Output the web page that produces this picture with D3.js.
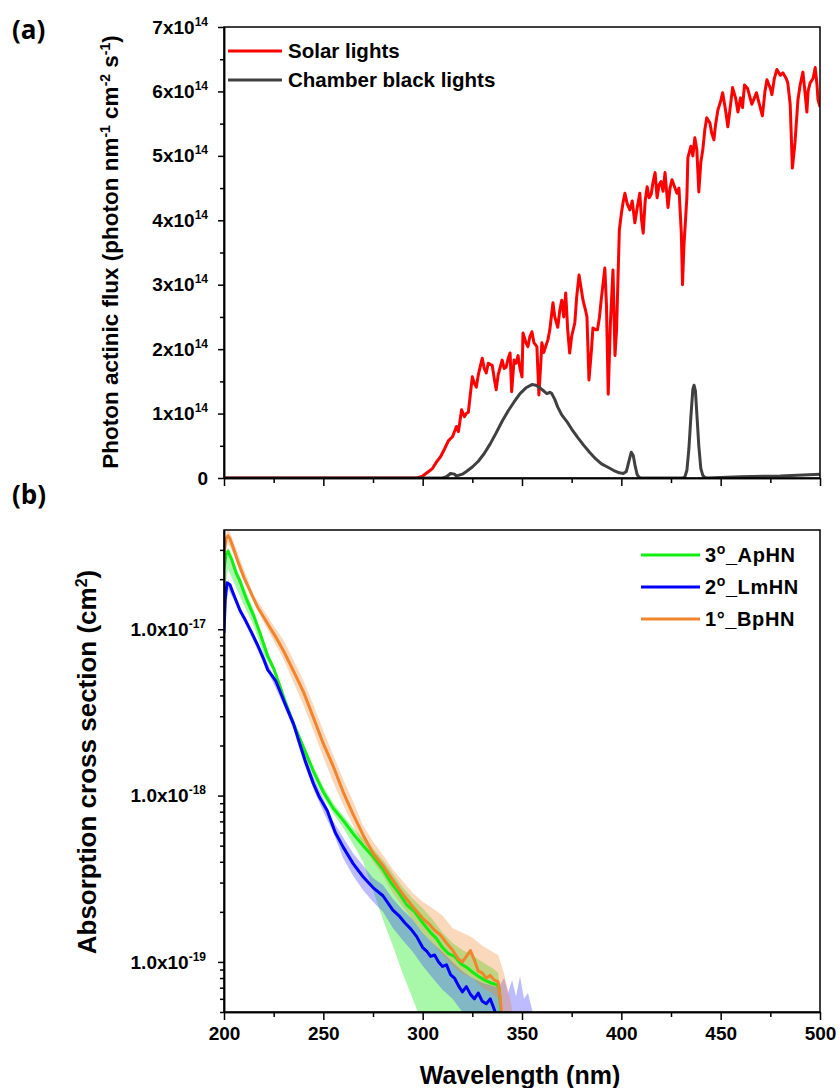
<!DOCTYPE html>
<html lang="en">
<head>
<meta charset="UTF-8">
<title>Actinic flux and absorption cross sections</title>
<script src="https://d3js.org/d3.v7.min.js"></script>
<style>
  body { margin: 0; background: #fff; }
  svg text { font-family: "Liberation Sans", Arial, sans-serif; font-weight: bold; fill: #000; }
</style>
</head>
<body>
<svg width="840" height="1088"></svg>
<script>
// ---- panel (a): actinic flux, values in units of 1e14 photon nm-1 cm-2 s-1
const solarWl = [200, 297, 300, 303, 305, 307, 309, 311, 313, 315, 317, 318, 319.6, 321, 322, 323, 324, 325, 326, 327, 328, 330, 331, 332, 333, 335, 336, 337, 338, 340, 341, 342, 343, 344, 344.8, 346, 347, 348, 349, 350, 350.5, 352, 353, 354, 355, 356, 357.5, 358.5, 359.5, 360, 361, 362, 363, 364, 365.6, 366.5, 368, 369, 370, 371, 372, 373, 374, 375, 376.6, 377.5, 378.7, 380, 380.7, 382, 382.7, 383.7, 385, 385.7, 387, 388, 389, 390, 391.7, 392.5, 393.4, 394.5, 395.8, 396.8, 397.6, 398.5, 399, 400, 401, 401.8, 403, 404.3, 405.5, 406.8, 408, 409.3, 410.2, 411, 412, 413, 414, 415, 416, 417, 418, 419, 420, 421, 422, 423.5, 424.5, 425.5, 427, 428, 429, 430.2, 430.8, 431.5, 433, 433.5, 435, 436, 437, 438, 439, 440, 441, 442, 443, 444.6, 445.5, 446.6, 447.5, 448.6, 450, 451, 452.5, 453.6, 455, 456, 457.5, 458.7, 460, 461, 462, 463.5, 465.7, 467, 468, 469.5, 471, 472.3, 473.3, 475, 475.8, 477, 478.3, 480, 481.3, 483, 483.8, 485, 486.1, 487.4, 488.9, 490, 491.4, 492.4, 493.4, 494, 495, 496.5, 497.6, 498.5, 499, 500];
const solarFlux = [0, 0, 0.03, 0.1, 0.15, 0.25, 0.33, 0.45, 0.58, 0.64, 0.8, 0.72, 1.06, 0.95, 1.0, 1.02, 1.3, 1.57, 1.47, 1.41, 1.6, 1.86, 1.7, 1.63, 1.78, 1.75, 1.55, 1.37, 1.6, 1.83, 1.7, 1.72, 1.85, 1.94, 1.34, 1.83, 1.78, 1.9, 1.7, 1.57, 2.25, 2.1, 2.04, 2.2, 2.27, 2.1, 2.04, 1.29, 1.8, 2.1, 1.95, 2.05, 2.14, 2.3, 2.72, 2.5, 2.34, 2.6, 2.76, 2.5, 2.87, 2.3, 1.94, 2.2, 2.41, 2.8, 3.15, 2.9, 2.76, 2.6, 2.5, 1.52, 2.0, 2.33, 2.3, 2.3, 2.5, 2.8, 3.26, 2.7, 1.3, 2.4, 3.23, 1.9, 2.3, 3.3, 3.85, 4.1, 4.3, 4.42, 4.25, 4.16, 4.3, 3.96, 4.2, 4.42, 4.0, 3.8, 4.3, 4.52, 4.35, 4.4, 4.6, 4.74, 4.35, 4.55, 4.6, 4.45, 4.74, 4.2, 4.5, 4.63, 4.5, 4.42, 4.5, 3.8, 3.0, 3.6, 4.36, 4.97, 5.15, 5.0, 5.28, 5.1, 4.44, 4.9, 5.09, 5.4, 5.59, 5.51, 5.35, 5.25, 5.5, 5.71, 5.85, 5.98, 5.7, 5.45, 5.8, 6.06, 5.9, 5.68, 5.9, 5.75, 6.1, 6.05, 5.8, 5.9, 5.98, 5.8, 5.62, 6.0, 6.18, 6.05, 5.95, 6.2, 6.34, 6.25, 6.29, 6.2, 6.13, 5.8, 4.81, 5.2, 5.87, 6.1, 6.3, 6.0, 5.68, 6.0, 6.13, 6.2, 6.37, 6.1, 5.87, 5.76];

const blackWl = [200, 310, 312, 314, 316, 317, 318, 320, 322, 325, 328, 331, 334, 337, 340, 343, 346, 349, 352, 355, 357, 359, 361, 362.5, 364, 365, 366.5, 368, 370, 372.5, 375, 378, 381, 384, 387, 390, 393, 396, 399, 401, 402.5, 404, 405, 406, 407, 408, 409, 410, 431, 432, 433, 434, 435, 436, 436.6, 437.3, 438, 439, 440, 441, 442, 443, 460, 480, 500];
const blackFlux = [0, 0, 0.02, 0.07, 0.06, 0.03, 0.04, 0.06, 0.1, 0.17, 0.26, 0.38, 0.53, 0.7, 0.88, 1.04, 1.18, 1.31, 1.4, 1.45, 1.44, 1.4, 1.35, 1.31, 1.33, 1.31, 1.22, 1.1, 0.98, 0.88, 0.76, 0.63, 0.51, 0.4, 0.3, 0.22, 0.17, 0.12, 0.08, 0.07, 0.1, 0.28, 0.4, 0.35, 0.18, 0.05, 0.01, 0, 0, 0.02, 0.12, 0.45, 0.95, 1.38, 1.44, 1.35, 1.0, 0.5, 0.15, 0.04, 0.01, 0, 0.02, 0.03, 0.06];

const fluxTicks = [0, 1, 2, 3, 4, 5, 6, 7];
const fluxMinor = [0.5, 1.5, 2.5, 3.5, 4.5, 5.5, 6.5];
const wlTicks = [200, 250, 300, 350, 400, 450, 500];
const wlMinor = [225, 275, 325, 375, 425, 475];

// ---- panel (b): absorption cross sections (cm2)
const apWl = [200, 201, 202, 204, 206, 208, 211, 215, 218, 222, 225, 228, 230, 235, 240, 245, 250, 255, 260, 265, 270, 275, 280, 284, 288, 292, 296, 300, 304, 307, 310, 313, 316, 319, 322, 325, 328, 331, 334, 337, 338.5, 339.5];
const apXs = [2.3e-17, 2.8e-17, 2.95e-17, 2.6e-17, 2.2e-17, 1.95e-17, 1.55e-17, 1.2e-17, 9.6e-18, 6.9e-18, 5.8e-18, 4.6e-18, 3.9e-18, 2.7e-18, 1.95e-18, 1.4e-18, 1.05e-18, 8.4e-19, 7.1e-19, 5.9e-19, 5.0e-19, 4.3e-19, 3.6e-19, 3.0e-19, 2.6e-19, 2.2e-19, 2.0e-19, 1.72e-19, 1.5e-19, 1.38e-19, 1.22e-19, 1.12e-19, 1.08e-19, 9.8e-20, 9.3e-20, 8.7e-20, 8.2e-20, 7.8e-20, 7.5e-20, 7.3e-20, 7.0e-20, 4.8e-20];
const apBandWl = [200, 202, 205, 210, 215, 220, 225, 230, 235, 240, 245, 250, 255, 260, 265, 270, 275, 280, 285, 290, 295, 300, 305, 310, 315, 320, 325, 330, 335, 338, 340];
const apLo = [1.6e-17, 2.3e-17, 1.9e-17, 1.4e-17, 1.05e-17, 7.0e-18, 5.6e-18, 3.75e-18, 2.6e-18, 1.85e-18, 1.32e-18, 9.8e-19, 7.8e-19, 6.4e-19, 5.1e-19, 4.0e-19, 2.7e-19, 1.8e-19, 1.25e-19, 8.5e-20, 6.0e-20, 4.2e-20, 3e-20, 3e-20, 3e-20, 3e-20, 3e-20, 3e-20, 3e-20, 3e-20, 3e-20];
const apHi = [2.5e-17, 3.1e-17, 2.5e-17, 1.8e-17, 1.3e-17, 8.2e-18, 6.1e-18, 4.1e-18, 2.85e-18, 2.05e-18, 1.5e-18, 1.13e-18, 9.0e-19, 7.6e-19, 6.4e-19, 5.5e-19, 4.8e-19, 4.1e-19, 3.4e-19, 2.8e-19, 2.4e-19, 2.1e-19, 1.8e-19, 1.5e-19, 1.3e-19, 1.18e-19, 1.1e-19, 1.0e-19, 9.2e-20, 8.6e-20, 5e-20];

const lmWl = [200, 200.6, 201.5, 203, 205, 208, 211, 214, 217, 220, 222, 224, 226, 228, 231, 235, 238, 241, 245, 248, 252, 256, 260, 265, 270, 275, 280, 285, 288, 291, 294, 297, 300, 302, 304, 306, 308, 310, 312, 314, 316, 318, 320, 322, 324, 326, 328, 330, 332, 334, 336, 337.5];
const lmXs = [9.5e-18, 1.5e-17, 1.9e-17, 1.85e-17, 1.6e-17, 1.3e-17, 1.12e-17, 9.5e-18, 8.0e-18, 6.6e-18, 5.7e-18, 5.3e-18, 4.9e-18, 4.3e-18, 3.5e-18, 2.7e-18, 2.07e-18, 1.6e-18, 1.18e-18, 9.8e-19, 8.1e-19, 6.0e-19, 4.9e-19, 3.9e-19, 3.25e-19, 2.8e-19, 2.5e-19, 2.05e-19, 1.9e-19, 1.72e-19, 1.58e-19, 1.42e-19, 1.22e-19, 1.16e-19, 1.08e-19, 1.1e-19, 1.0e-19, 9.4e-20, 9.6e-20, 8.4e-20, 8.0e-20, 7.2e-20, 6.6e-20, 7.1e-20, 6.4e-20, 6.0e-20, 6.5e-20, 5.8e-20, 5.6e-20, 6.0e-20, 5.2e-20, 4.6e-20];
const lmBandWl = [200, 202, 205, 210, 215, 220, 225, 230, 235, 240, 245, 250, 255, 260, 265, 270, 275, 280, 285, 290, 295, 300, 305, 310, 315, 320, 325, 330, 335, 338, 341, 343, 345, 347, 349, 351, 353, 355, 357];
const lmLo = [9e-18, 1.75e-17, 1.5e-17, 1.12e-17, 8.4e-18, 6.2e-18, 4.7e-18, 3.5e-18, 2.5e-18, 1.6e-18, 1.1e-18, 8.0e-19, 6.0e-19, 4.2e-19, 3.3e-19, 2.7e-19, 2.3e-19, 2.0e-19, 1.6e-19, 1.35e-19, 1.15e-19, 9.5e-20, 8.0e-20, 6.8e-20, 6.0e-20, 5.0e-20, 4.5e-20, 4.0e-20, 3e-20, 3e-20, 3e-20, 3e-20, 3e-20, 3e-20, 3e-20, 3e-20, 3e-20, 3e-20, 3e-20];
const lmHi = [1.0e-17, 2.0e-17, 1.7e-17, 1.2e-17, 9.0e-18, 7.0e-18, 5.2e-18, 3.8e-18, 2.85e-18, 1.85e-18, 1.3e-18, 9.6e-19, 7.0e-19, 5.6e-19, 4.5e-19, 3.8e-19, 3.2e-19, 2.9e-19, 2.4e-19, 2.05e-19, 1.8e-19, 1.5e-19, 1.3e-19, 1.15e-19, 1.0e-19, 8.8e-20, 8.0e-20, 7.5e-20, 7.2e-20, 7.0e-20, 8.0e-20, 6.5e-20, 7.8e-20, 6.2e-20, 8.2e-20, 6.0e-20, 6.5e-20, 5.2e-20, 4.5e-20];

const bpWl = [200, 201, 202, 203, 205, 207, 210, 213, 217, 220, 223, 226, 230, 235, 240, 245, 250, 255, 260, 265, 270, 275, 280, 285, 290, 295, 300, 303, 306, 309, 312, 315, 318, 320, 322, 324, 326, 328, 330, 332, 334, 336, 338, 339, 340];
const bpXs = [2.9e-17, 3.5e-17, 3.65e-17, 3.5e-17, 3.0e-17, 2.55e-17, 2.05e-17, 1.71e-17, 1.35e-17, 1.18e-17, 1.03e-17, 9.0e-18, 7.4e-18, 5.6e-18, 4.2e-18, 2.95e-18, 2.05e-18, 1.5e-18, 1.05e-18, 7.7e-19, 5.8e-19, 4.5e-19, 3.8e-19, 3.1e-19, 2.55e-19, 2.15e-19, 1.83e-19, 1.7e-19, 1.55e-19, 1.45e-19, 1.3e-19, 1.18e-19, 1.04e-19, 1.0e-19, 1.08e-19, 1.17e-19, 1.03e-19, 8.8e-20, 8.6e-20, 8.0e-20, 8.3e-20, 7.8e-20, 7.6e-20, 6.0e-20, 4.5e-20];
const bpBandWl = [200, 202, 205, 210, 215, 220, 225, 230, 235, 240, 245, 250, 255, 260, 265, 270, 275, 280, 285, 290, 295, 300, 305, 310, 315, 320, 325, 330, 335, 338, 341, 344, 346];
const bpLo = [2.6e-17, 3.3e-17, 2.8e-17, 2.0e-17, 1.45e-17, 1.1e-17, 8.5e-18, 6.6e-18, 4.8e-18, 3.5e-18, 2.45e-18, 1.7e-18, 1.2e-18, 8.8e-19, 6.6e-19, 5.0e-19, 4.0e-19, 3.3e-19, 2.6e-19, 2.15e-19, 1.8e-19, 1.5e-19, 1.3e-19, 1.1e-19, 9.5e-20, 8.5e-20, 8e-20, 7e-20, 6.5e-20, 6e-20, 5e-20, 4.5e-20, 4e-20];
const bpHi = [3.3e-17, 4.1e-17, 3.3e-17, 2.3e-17, 1.6e-17, 1.3e-17, 1.05e-17, 8.6e-18, 6.5e-18, 4.9e-18, 3.5e-18, 2.45e-18, 1.75e-18, 1.25e-18, 9.2e-19, 6.6e-19, 5.3e-19, 4.4e-19, 3.6e-19, 3.05e-19, 2.6e-19, 2.3e-19, 2.1e-19, 1.9e-19, 1.6e-19, 1.5e-19, 1.4e-19, 1.25e-19, 1.15e-19, 1.1e-19, 8.5e-20, 6e-20, 4.5e-20];

const xsTicks = [1e-19, 1e-18, 1e-17];

const svg = d3.select("svg");

// scales
const xA = d3.scaleLinear().domain([200, 500]).range([224, 820]);
const yA = d3.scaleLinear().domain([0, 7]).range([478, 27]);
const xB = d3.scaleLinear().domain([200, 500]).range([224, 820]);
const yB = d3.scaleLog().domain([5e-20, 3.95e-17]).range([1012, 530]);

const defs = svg.append("defs");
defs.append("clipPath").attr("id", "clipA").append("rect")
  .attr("x", 224).attr("y", 27).attr("width", 596).attr("height", 451);
defs.append("clipPath").attr("id", "clipB").append("rect")
  .attr("x", 224).attr("y", 530).attr("width", 596).attr("height", 482);

function supText(sel, base, exp, supSize) {
  sel.text(base);
  if (exp) sel.append("tspan").attr("dy", -8).attr("font-size", supSize).text(exp);
}

// ================= panel (a) =================
const gA = svg.append("g");
const zipA = (w, v) => w.map((d, i) => ({ wl: d, v: v[i] }));
const lineA = d3.line().x(d => xA(d.wl)).y(d => yA(d.v));

const plotA = gA.append("g").attr("clip-path", "url(#clipA)");
plotA.append("path").datum(zipA(solarWl, solarFlux))
  .attr("d", lineA).attr("fill", "none").attr("stroke", "#ff0000")
  .attr("stroke-width", 3).attr("stroke-linejoin", "round");
plotA.append("path").datum(zipA(blackWl, blackFlux))
  .attr("d", lineA).attr("fill", "none").attr("stroke", "#404040")
  .attr("stroke-width", 3).attr("stroke-linejoin", "round");

gA.append("rect").attr("x", 224).attr("y", 27).attr("width", 596).attr("height", 451)
  .attr("fill", "none").attr("stroke", "#000").attr("stroke-width", 1.5);

const axA = gA.append("g").attr("transform", "translate(224,0)")
  .call(d3.axisLeft(yA).tickValues(fluxTicks).tickSize(6).tickSizeOuter(0).tickPadding(10).tickFormat(""));
axA.selectAll(".tick text").attr("font-size", 19).each(function(d) {
  supText(d3.select(this), d === 0 ? "0" : d + "x10", d === 0 ? null : "14", 12);
});
gA.append("g").attr("transform", "translate(224,0)")
  .call(d3.axisLeft(yA).tickValues(fluxMinor).tickSize(4).tickSizeOuter(0).tickFormat(""));
gA.append("g").attr("transform", "translate(0,478)")
  .call(d3.axisBottom(xA).tickValues(wlTicks).tickSize(8).tickSizeOuter(0).tickFormat(""));
gA.append("g").attr("transform", "translate(0,478)")
  .call(d3.axisBottom(xA).tickValues(wlMinor).tickSize(5).tickSizeOuter(0).tickFormat(""));

// y title (a)
const tA = gA.append("text").attr("transform", "translate(118,252) rotate(-90)")
  .attr("text-anchor", "middle").attr("font-size", 22.5);
tA.append("tspan").text("Photon actinic flux (photon nm");
tA.append("tspan").attr("dy", -8).attr("font-size", 14).text("-1");
tA.append("tspan").attr("dy", 8).text(" cm");
tA.append("tspan").attr("dy", -8).attr("font-size", 14).text("-2");
tA.append("tspan").attr("dy", 8).text(" s");
tA.append("tspan").attr("dy", -8).attr("font-size", 14).text("-1");
tA.append("tspan").attr("dy", 8).text(")");

// legend (a)
const legA = [
  { label: "Solar lights", color: "#ff0000", y: 51 },
  { label: "Chamber black lights", color: "#404040", y: 80 }
];
legA.forEach(d => {
  gA.append("line").attr("x1", 228).attr("x2", 282).attr("y1", d.y).attr("y2", d.y)
    .attr("stroke", d.color).attr("stroke-width", 3);
  gA.append("text").attr("x", 288).attr("y", d.y + 7).attr("font-size", 20.5).text(d.label);
});

// ================= panel (b) =================
const gB = svg.append("g");
const zipB = (w, v) => w.map((d, i) => ({ wl: d, v: v[i] }));
const zipBand = (w, lo, hi) => w.map((d, i) => ({ wl: d, lo: lo[i], hi: hi[i] }));
const lineB = d3.line().x(d => xB(d.wl)).y(d => yB(d.v));
const areaB = d3.area().x(d => xB(d.wl)).y0(d => yB(d.lo)).y1(d => yB(d.hi));

const series = [
  { name: "3", sup: "o", tail: "_ApHN", color: "#11ee11", band: "#33ee33", bandOp: 0.42,
    line: zipB(apWl, apXs), area: zipBand(apBandWl, apLo, apHi) },
  { name: "2", sup: "o", tail: "_LmHN", color: "#0000ff", band: "#3333ff", bandOp: 0.33,
    line: zipB(lmWl, lmXs), area: zipBand(lmBandWl, lmLo, lmHi) },
  { name: "1\u00b0", sup: null, tail: "_BpHN", color: "#f0852d", band: "#f0852d", bandOp: 0.32,
    line: zipB(bpWl, bpXs), area: zipBand(bpBandWl, bpLo, bpHi) }
];

const plotB = gB.append("g").attr("clip-path", "url(#clipB)");
series.forEach(s => {
  plotB.append("path").datum(s.area).attr("d", areaB)
    .attr("fill", s.band).attr("fill-opacity", s.bandOp).attr("stroke", "none");
});
series.forEach(s => {
  plotB.append("path").datum(s.line).attr("d", lineB)
    .attr("fill", "none").attr("stroke", s.color).attr("stroke-width", 3)
    .attr("stroke-linejoin", "round");
});

gB.append("rect").attr("x", 224).attr("y", 530).attr("width", 596).attr("height", 482)
  .attr("fill", "none").attr("stroke", "#000").attr("stroke-width", 1.5);

const axBy = gB.append("g").attr("transform", "translate(224,0)")
  .call(d3.axisLeft(yB).tickValues(xsTicks).tickSize(6).tickSizeOuter(0).tickPadding(12).tickFormat(""));
axBy.selectAll(".tick text").attr("font-size", 19).each(function(d) {
  supText(d3.select(this), "1.0x10", String(Math.round(Math.log10(d))), 12);
});
const minorLog = yB.ticks().filter(d => Math.abs(Math.log10(d) - Math.round(Math.log10(d))) > 1e-6);
gB.append("g").attr("transform", "translate(224,0)")
  .call(d3.axisLeft(yB).tickValues(minorLog).tickSize(4).tickSizeOuter(0).tickFormat(""));

gB.append("g").attr("transform", "translate(0,1012)")
  .call(d3.axisBottom(xB).tickValues(wlTicks).tickSize(8).tickSizeOuter(0).tickPadding(7).tickFormat(d3.format("d")))
  .selectAll("text").attr("font-size", 19);
gB.append("g").attr("transform", "translate(0,1012)")
  .call(d3.axisBottom(xB).tickValues(wlMinor).tickSize(5).tickSizeOuter(0).tickFormat(""));

svg.selectAll(".domain").attr("stroke-width", 1.5);
svg.selectAll(".tick line").attr("stroke-width", 1.5);

// y title (b)
const tB = gB.append("text").attr("transform", "translate(96,762) rotate(-90)")
  .attr("text-anchor", "middle").attr("font-size", 26);
tB.append("tspan").text("Absorption cross section (cm");
tB.append("tspan").attr("dy", -9).attr("font-size", 16).text("2");
tB.append("tspan").attr("dy", 9).text(")");

// x title
gB.append("text").attr("x", 520).attr("y", 1084).attr("text-anchor", "middle")
  .attr("font-size", 25).text("Wavelength (nm)");

// legend (b)
series.forEach((s, i) => {
  const y = 555 + i * 32;
  gB.append("line").attr("x1", 641).attr("x2", 700).attr("y1", y).attr("y2", y)
    .attr("stroke", s.color).attr("stroke-width", 3);
  const t = gB.append("text").attr("x", 705).attr("y", y + 7).attr("font-size", 20)
    .attr("letter-spacing", 0.6);
  t.append("tspan").text(s.name);
  if (s.sup) {
    t.append("tspan").attr("dy", -8).attr("font-size", 14).text(s.sup);
    t.append("tspan").attr("dy", 8).text(s.tail);
  } else {
    t.append("tspan").text(s.tail);
  }
});

// panel labels
svg.append("text").attr("x", 12).attr("y", 39).attr("font-size", 26)
  .style("font-family", "'Open Sans', sans-serif").text("(a)");
svg.append("text").attr("x", 12).attr("y", 504).attr("font-size", 26)
  .style("font-family", "'Open Sans', sans-serif").text("(b)");
</script>
</body>
</html>
